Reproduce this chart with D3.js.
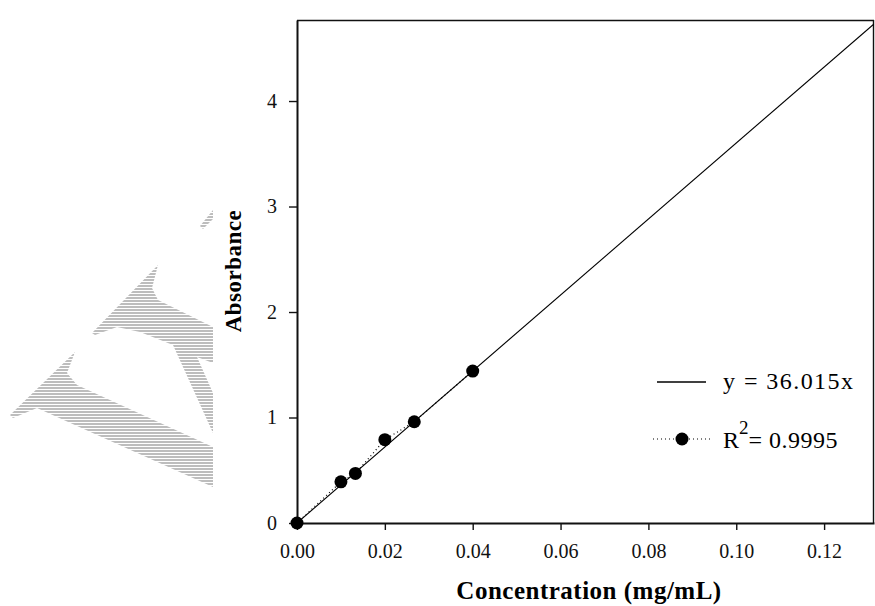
<!DOCTYPE html>
<html>
<head>
<meta charset="utf-8">
<script src="https://cdn.jsdelivr.net/npm/d3@7"></script>
<style>
  body { margin: 0; background: #fff; }
  svg { display: block; }
  text { font-family: "Liberation Serif", "Times New Roman", serif; }
</style>
</head>
<body>
<div id="chart"></div>
<script>
// calibration data
let concentration = [0, 0.01, 0.0133, 0.02, 0.0267, 0.04];
let absorbance = [0, 0.39, 0.47, 0.79, 0.96, 1.44];
let slope = 36.015;
let rSquared = "0.9995";
let xTicks = [0, 0.02, 0.04, 0.06, 0.08, 0.10, 0.12];
let yTicks = [0, 1, 2, 3, 4];

let W = 875, H = 606;
let margin = { top: 20, right: 1, bottom: 83, left: 297 },
    width = W - margin.left - margin.right,
    height = H - margin.top - margin.bottom;

let x = d3.scaleLinear().domain([0, 0.13136]).range([0, width]);
let y = d3.scaleLinear().domain([0, 4.768]).range([height, 0]);

let root = d3.select("#chart").append("svg")
    .attr("width", W)
    .attr("height", H);

// striped watermark in the left margin
let defs = root.append("defs");
let pat = defs.append("pattern")
    .attr("id", "stripes")
    .attr("patternUnits", "userSpaceOnUse")
    .attr("width", 10)
    .attr("height", 3);
pat.append("rect").attr("width", 10).attr("height", 2).attr("fill", "#bdbdbd");

let mark = [
    [[75,352],[67,373],[77,385],[213,447],[213,487],[37,408],[13,418],[10,415]],
    [[158,265],[152,288],[158,300],[213,327],[213,363],[197,357],[213,393],[213,433],[173,345],[140,332],[117,327],[95,335],[92,333]],
    [[200,226],[213,210],[213,219],[203,229]]
];
root.append("g").selectAll("path")
    .data(mark)
    .enter()
    .append("path")
    .attr("d", function(d) { return "M" + d.join("L") + "Z"; })
    .attr("fill", "url(#stripes)");

let svg = root.append("g")
    .attr("transform", "translate(" + margin.left + "," + margin.top + ")");

// frame
svg.append("line").attr("x1", 0).attr("x2", width).attr("y1", 0.5).attr("y2", 0.5)
    .attr("stroke", "#111").attr("stroke-width", 1.4);
svg.append("line").attr("x1", width - 0.5).attr("x2", width - 0.5).attr("y1", 0).attr("y2", height)
    .attr("stroke", "#111").attr("stroke-width", 1.4);

// x axis
let xAxis = svg.append("g")
    .attr("transform", "translate(0," + height + ")")
    .call(d3.axisBottom(x).tickValues(xTicks).tickSize(7).tickSizeOuter(0).tickFormat(d3.format(".2f")));
xAxis.select(".domain").attr("stroke", "#111").attr("stroke-width", 1.8);
xAxis.selectAll(".tick line").attr("stroke", "#111").attr("stroke-width", 1.4);
xAxis.selectAll("text")
    .attr("y", 21)
    .attr("dy", "0.71em")
    .style("font-family", "Liberation Serif")
    .style("font-size", "20px")
    .attr("fill", "#111");

// y axis
let yAxis = svg.append("g")
    .call(d3.axisLeft(y).tickValues(yTicks).tickSize(8).tickSizeOuter(0).tickFormat(d3.format("d")));
yAxis.select(".domain").attr("stroke", "#111").attr("stroke-width", 2);
yAxis.selectAll(".tick line").attr("stroke", "#111").attr("stroke-width", 1.4);
yAxis.selectAll("text")
    .attr("x", -20)
    .style("font-family", "Liberation Serif")
    .style("font-size", "20px")
    .attr("fill", "#111");

// axis titles
svg.append("text")
    .attr("x", 292)
    .attr("y", height + 76)
    .style("text-anchor", "middle")
    .style("font-weight", "bold")
    .style("font-size", "25px")
    .style("letter-spacing", "0.5px")
    .text("Concentration (mg/mL)");

svg.append("text")
    .attr("transform", "rotate(-90)")
    .attr("x", -251)
    .attr("y", -56)
    .style("text-anchor", "middle")
    .style("font-weight", "bold")
    .style("font-size", "23px")
    .style("letter-spacing", "0.5px")
    .text("Absorbance");

// fitted line y = slope * x
let clip = defs.append("clipPath").attr("id", "plot-clip");
clip.append("rect").attr("width", width).attr("height", height);
svg.append("line")
    .attr("clip-path", "url(#plot-clip)")
    .attr("x1", x(0)).attr("y1", y(0))
    .attr("x2", x(x.domain()[1])).attr("y2", y(slope * x.domain()[1]))
    .attr("stroke", "#000")
    .attr("stroke-width", 1.1);

// measured points, dotted connection
let pts = concentration.map(function(c, i) { return [c, absorbance[i]]; });
svg.append("path")
    .datum(pts)
    .attr("d", d3.line().x(function(d) { return x(d[0]); }).y(function(d) { return y(d[1]); }))
    .attr("fill", "none")
    .attr("stroke", "#000")
    .attr("stroke-width", 1.2)
    .attr("stroke-dasharray", "1,3");

svg.selectAll(".dot")
    .data(pts)
    .enter()
    .append("circle")
    .attr("class", "dot")
    .attr("cx", function(d) { return x(d[0]); })
    .attr("cy", function(d) { return y(d[1]); })
    .attr("r", 6.5)
    .attr("fill", "#000");

// legend
let leg = root.append("g");
leg.append("line").attr("x1", 657).attr("x2", 706).attr("y1", 382).attr("y2", 382)
    .attr("stroke", "#000").attr("stroke-width", 1.3);
leg.append("text").attr("x", 723).attr("y", 389)
    .style("font-size", "24px")
    .attr("textLength", 130)
    .text("y = " + slope.toFixed(3) + "x");

leg.append("line").attr("x1", 653).attr("x2", 712).attr("y1", 439).attr("y2", 439)
    .attr("stroke", "#000").attr("stroke-width", 1.2).attr("stroke-dasharray", "1,3");
leg.append("circle").attr("cx", 682).attr("cy", 439).attr("r", 6.5).attr("fill", "#000");
let r2 = leg.append("text").attr("x", 723).attr("y", 448).style("font-size", "24px");
r2.append("tspan").text("R");
r2.append("tspan").attr("dy", -14).style("font-size", "19px").text("2");
r2.append("tspan").attr("dy", 14).style("letter-spacing", "0.5px").text("= " + rSquared);
</script>
</body>
</html>
